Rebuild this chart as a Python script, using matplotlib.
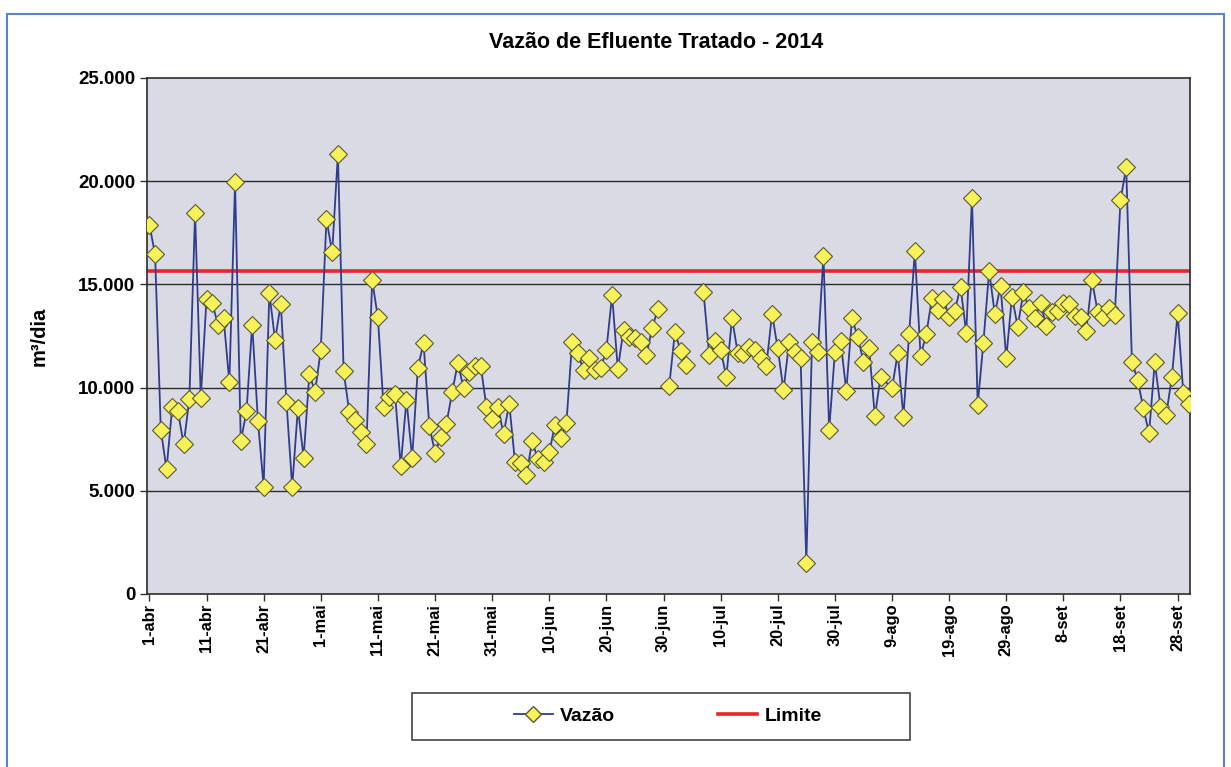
import matplotlib
matplotlib.use("Agg")
import matplotlib.pyplot as plt
from matplotlib.patches import Rectangle
import numpy as np
import pandas as pd

plt.rcParams['font.family'] = ['Liberation Sans', 'DejaVu Sans']
plt.rcParams['font.weight'] = 'bold'

# vazão diária (m3/dia), 1-abr a 30-set 2014; None = sem medição
vazao = [
    17900, 16450, 7950, 6050, 9050, 8850, 7250, 9450, 18450, 9500,
    14300, 14100, 13050, 13350, 10250, 19950, 7400, 8850, 13050, 8400,
    5200, 14600, 12300, 14050, 9300, 5200, 9000, 6600, 10650, 9800,
    11800, 18150, 16550, 21300, 10800, 8800, 8450, 7850, 7250, 15200,
    13400, 9050, 9550, 9700, 6200, 9400, 6600, 10970, 12150, 8150,
    6850, 7600, 8250, 9770, 11200, 9970, 10750, 11050, 11050, 9070,
    8500, 9070, 7750, 9220, 6400, 6350, 5750, 7400, 6550, 6380,
    6860, 8200, 7550, 8270, 12200, 11660, 10850, 11420, 10850, 10930,
    11820, 14490, 10900, 12790, 12470, 12390, 12230, 11580, 12870, 13790,
    None, 10080, 12700, 11780, 11090, None, None, 14650, 11580, 12250,
    11820, 10530, 13360, 11660, 11610, 11980, 11820, 11420, 11050, 13570,
    11900, 9880, 12200, 11740, 11420, 1520, 12200, 11710, 16380, 7950,
    11710, 12260, 9850, 13360, 12450, 11260, 11900, 8600, 10530, None,
    9970, 11660, 8590, 12580, 16630, 11550, 12580, 14360, 13760, 14290,
    13440, 13730, 14890, 12630, 19170, 9160, 12180, 15650, 13570, 14940,
    11420, 14410, 12950, 14620, 13840, 13360, 14080, 13000, 13650, 13710,
    14080, 14050, 13490, 13440, 12740, 15210, 13680, 13440, 13870, 13520,
    19090, 20670, 11260, 10370, 9000, 7790, 11230, 9070, 8670, 10530,
    13600, 9720, 9190,
]
dias = pd.date_range('2014-04-01', '2014-09-30', freq='D')
# dias sem medição em que a linha do gráfico é interrompida
quebra = ['2014-06-30', '2014-07-05', '2014-07-06']
limite = 15650

meses = ['jan', 'fev', 'mar', 'abr', 'mai', 'jun', 'jul', 'ago', 'set', 'out', 'nov', 'dez']
yticks = [0, 5000, 10000, 15000, 20000, 25000]

s = pd.Series(vazao, index=dias, dtype=float)
linha = s[s.notna() | s.index.isin(pd.to_datetime(quebra))]

fig = plt.figure(figsize=(12.31, 7.67), dpi=100)
ax = fig.add_axes([147 / 1231, 1 - 594 / 767, (1190 - 147) / 1231, (594 - 78) / 767])
ax.set_facecolor('#dadae4')

for yv in yticks[1:-1]:
    ax.axhline(yv, color='#2b2b2b', lw=1.0, zorder=1)

ax.axhline(limite, color='#e8262a', lw=2.6, zorder=2)
ax.plot(linha.index, linha.values, color='#2f3d8a', lw=1.3, zorder=3,
        marker='D', markersize=9, markerfacecolor='#f7f25a',
        markeredgecolor='#5a5a30', markeredgewidth=0.8)

ax.set_ylim(0, 25000)
ax.set_yticks(yticks)
ax.set_yticklabels(['0' if v == 0 else f'{v:,}'.replace(',', '.') for v in yticks],
                   fontsize=13.5, fontweight='bold')
ax.set_xlim(dias[0] - pd.Timedelta(hours=10), dias[-1] + pd.Timedelta(hours=4))
xt = dias[::10]
ax.set_xticks(xt)
ax.set_xticklabels([f'{d.day}-{meses[d.month - 1]}' for d in xt],
                   rotation=90, fontsize=11.8, fontweight='bold')
ax.tick_params(axis='both', direction='out', length=5, color='#333333', width=1)
ax.tick_params(axis='x', pad=2)
for sp in ax.spines.values():
    sp.set_color('#2b2b2b')
    sp.set_linewidth(1.2)

ax.set_ylabel('m³/dia', fontsize=14.5, fontweight='bold', labelpad=21)

fig.text(0.533, 1 - 42 / 767, 'Vazão de Efluente Tratado - 2014',
         ha='center', va='center', fontsize=15.5, fontweight='bold')

# legenda
fig.patches.append(Rectangle((412 / 1231, 1 - 740 / 767), 498 / 1231, 47 / 767,
                             transform=fig.transFigure, fill=False,
                             edgecolor='#444444', lw=1.2))
h1, = ax.plot([], [], color='#2f3d8a', lw=1.3, marker='D', markersize=8,
              markerfacecolor='#f7f25a', markeredgecolor='#5a5a30')
h2, = ax.plot([], [], color='#e8262a', lw=2.6)
fig.legend([h1, h2], ['Vazão', 'Limite'], loc='center',
           bbox_to_anchor=(668 / 1231, 1 - 716 / 767), ncol=2, frameon=False,
           fontsize=14, handlelength=2.0, columnspacing=5.3, handletextpad=0.4)

# moldura externa
fig.patches.append(Rectangle((7 / 1231, -0.01), 1217 / 1231, 1 - 14 / 767 + 0.01,
                             transform=fig.transFigure, fill=False,
                             edgecolor='#5b84c4', lw=1.5))

fig.savefig('out.png', dpi=100)
